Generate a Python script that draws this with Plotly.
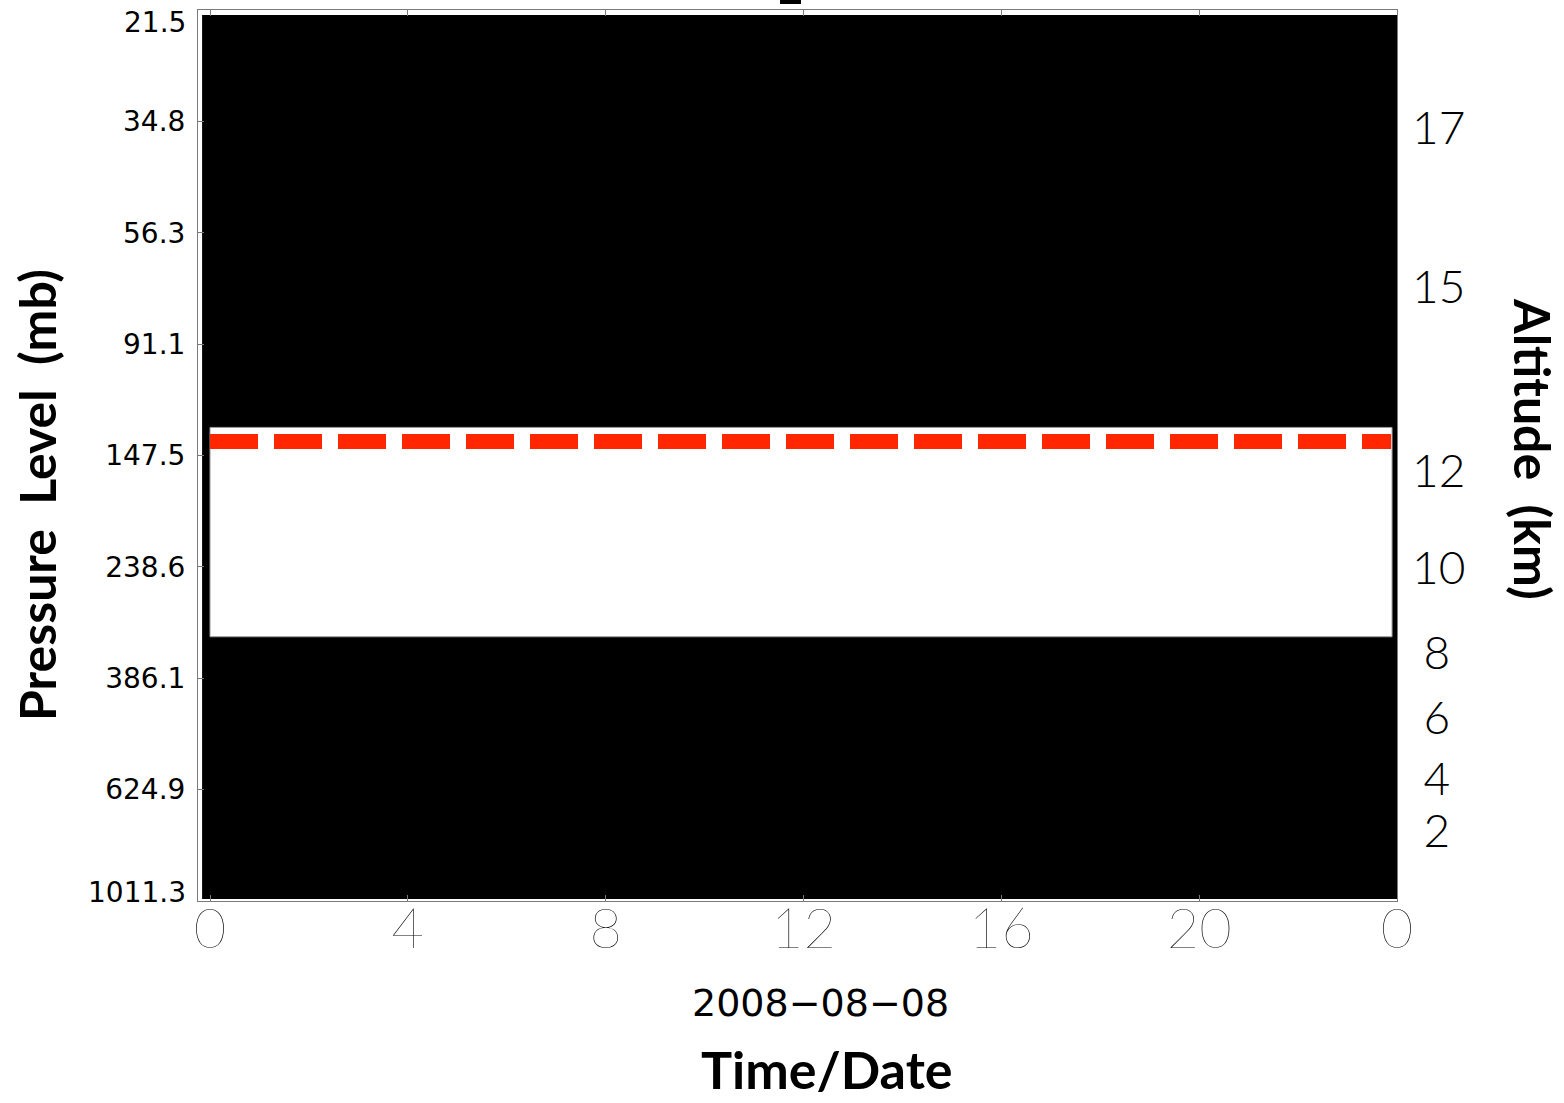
import numpy as np
import plotly.graph_objects as go

# ---------------- data ----------------
HOUR_TICKS = [0, 4, 8, 12, 16, 20, 24]
HOUR_LABELS = ["0", "4", "8", "12", "16", "20", "0"]
PRESSURE_TICKS = [21.5, 34.8, 56.3, 91.1, 147.5, 238.6, 386.1, 624.9, 1011.3]
PRESSURE_LABELS = ["21.5", "34.8", "56.3", "91.1", "147.5", "238.6", "386.1", "624.9", "1011.3"]
ALTITUDE_KM = [17, 15, 12, 10, 8, 6, 4, 2]
ALTITUDE_PRESSURE = [35.8, 71.3, 157.3, 239.4, 345.8, 458.2, 596.6, 747.0]

BG_TIME = [-0.16, 24.0]          # no-data background extent (hours)
BG_PRESSURE = [21.97, 1002.6]    # mb
CLOUD_TIME = [0.0, 23.9]         # observed layer extent (hours)
CLOUD_PRESSURE = [130.6, 322.8]  # mb
TROPO_TIME = [0.0, 23.88]
TROPO_PRESSURE = [138.8, 138.8]  # tropopause (mb)

DATE_LABEL = "2008\u221208\u221208"
SP = " \u00a0"

# ---------------- figure ----------------
W, H = 1564, 1103
L, R, T, B = 198, 167, 10, 202
PX_PER_H = (1397 - 210) / 24.0
x_min = -(210 - 198) / PX_PER_H

fig = go.Figure()

def rect(xs, ys):
    return [xs[0], xs[1], xs[1], xs[0], xs[0]], [ys[0], ys[0], ys[1], ys[1], ys[0]]

bx, by = rect(BG_TIME, BG_PRESSURE)
fig.add_trace(go.Scatter(x=bx, y=by, mode="lines", fill="toself", fillcolor="black",
                         line=dict(width=0, color="black"), hoverinfo="skip", showlegend=False))
cx, cy = rect(CLOUD_TIME, CLOUD_PRESSURE)
fig.add_trace(go.Scatter(x=cx, y=cy, mode="lines", fill="toself", fillcolor="white",
                         line=dict(width=1, color="#9a9a9a"), hoverinfo="skip", showlegend=False))
fig.add_trace(go.Scatter(x=TROPO_TIME, y=TROPO_PRESSURE, mode="lines",
                         line=dict(width=15, color="#ff2600", dash="48px,16px"),
                         hoverinfo="skip", showlegend=False))
# invisible trace to activate right axis
fig.add_trace(go.Scatter(x=[None], y=[None], yaxis="y2", showlegend=False, hoverinfo="skip"))

eps = 1e-5
yr = [np.log10(max(PRESSURE_TICKS)) + eps, np.log10(min(PRESSURE_TICKS)) - eps]

alt_text = [("\u2005" + str(a)) if a < 10 else str(a) for a in ALTITUDE_KM]
# edge labels are drawn nudged inward (as in the original), so blank them on the axis
p_text = [""] + PRESSURE_LABELS[1:-1] + [""]

fig.update_layout(
    width=W, height=H,
    margin=dict(l=L, r=R, t=T, b=B, pad=0, autoexpand=False),
    paper_bgcolor="white", plot_bgcolor="white",
    xaxis=dict(range=[x_min, 24.0], tickvals=HOUR_TICKS, ticktext=HOUR_LABELS,
               showgrid=False, zeroline=False, showline=True, linecolor="#7a7a7a", linewidth=1,
               mirror="ticks", ticks="inside", ticklen=6, tickcolor="#7a7a7a", automargin=False,
               tickfont=dict(family="Lato", size=56, color="black", weight=200),
               ticklabelstandoff=-21),
    yaxis=dict(type="log", range=yr, tickvals=PRESSURE_TICKS, ticktext=p_text,
               showgrid=False, zeroline=False, showline=True, linecolor="#7a7a7a", linewidth=1,
               mirror=True, ticks="inside", ticklen=6, tickcolor="#7a7a7a", automargin=False,
               tickfont=dict(family="DejaVu Sans", size=28, color="black"),
               ticklabelstandoff=6),
    yaxis2=dict(type="log", range=yr, overlaying="y", side="right", automargin=False,
                tickvals=ALTITUDE_PRESSURE, ticktext=alt_text,
                showgrid=False, zeroline=False, showline=False, ticks="",
                tickfont=dict(family="Lato", size=46, color="black", weight=300),
                ticklabelstandoff=14),
)

def px_x(x):
    return (x - L) / (W - L - R)

def px_y(y):
    return (H - B - y) / (H - T - B)

for lab, ypx in ((PRESSURE_LABELS[0], 22), (PRESSURE_LABELS[-1], 892)):
    fig.add_annotation(text=lab, xref="paper", yref="paper", x=px_x(188), y=px_y(ypx),
                       showarrow=False, xanchor="right", yanchor="middle",
                       font=dict(family="DejaVu Sans", size=28, color="black"))

fig.add_annotation(text=DATE_LABEL, xref="paper", yref="paper", x=px_x(820), y=px_y(1003),
                   showarrow=False, xanchor="center", yanchor="middle",
                   font=dict(family="DejaVu Sans", size=38, color="black"))
fig.add_annotation(text="<b>Time/Date</b>", xref="paper", yref="paper", x=px_x(827), y=px_y(1069),
                   showarrow=False, xanchor="center", yanchor="middle",
                   font=dict(family="Lato", size=52, color="black"))
fig.add_annotation(text="<b>Pressure" + SP + "Level" + SP + "(mb)</b>", xref="paper", yref="paper",
                   x=px_x(37), y=px_y(495), textangle=-90,
                   showarrow=False, xanchor="center", yanchor="middle",
                   font=dict(family="Lato", size=50, color="black"))
fig.add_annotation(text="<b>Altitude" + SP + "(km)</b>", xref="paper", yref="paper",
                   x=px_x(1533), y=px_y(449), textangle=90,
                   showarrow=False, xanchor="center", yanchor="middle",
                   font=dict(family="Lato", size=50, color="black"))
# cut-off title fragment at the very top
fig.add_shape(type="rect", xref="paper", yref="paper",
              x0=px_x(780), x1=px_x(801), y0=px_y(4), y1=px_y(-2),
              fillcolor="black", line=dict(width=0))

fig.write_html("out.html")
